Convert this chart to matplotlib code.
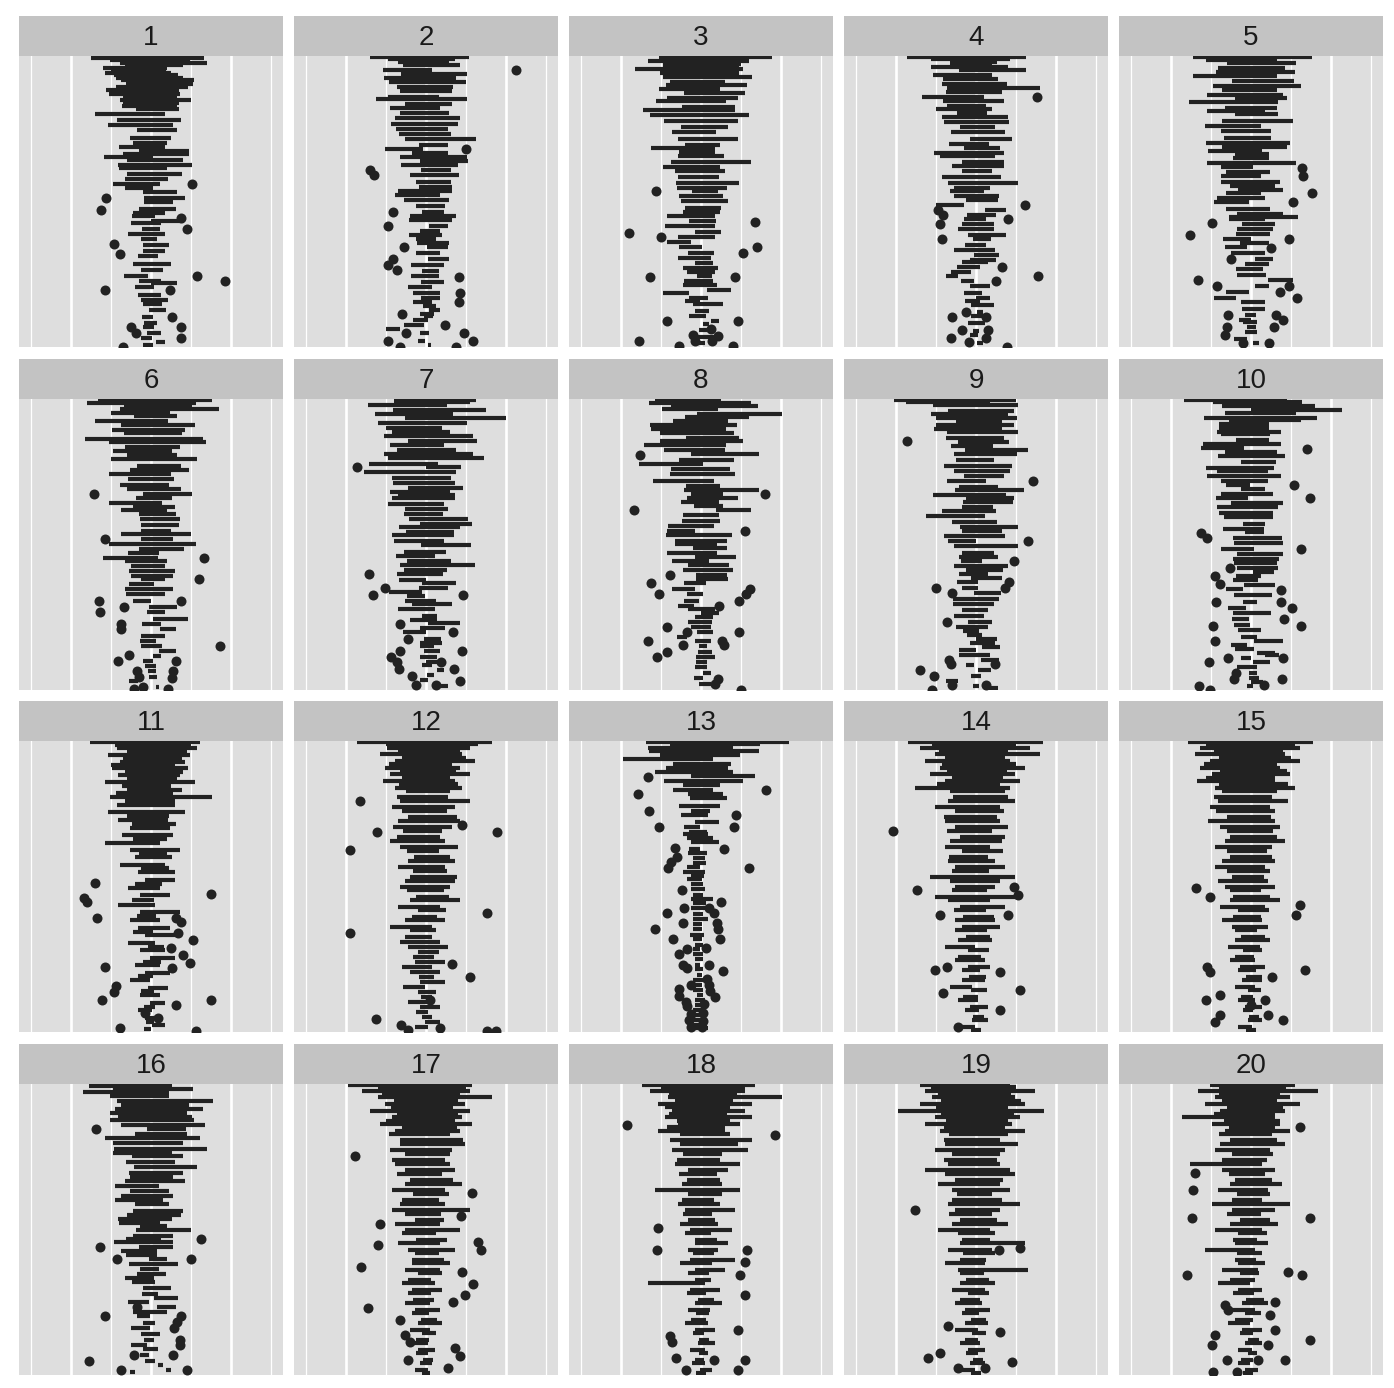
import matplotlib.pyplot as plt

# each bar: (row position, lower end, upper end); each dot: (row position, value)
p01_bars = [
    (0.5, -7.5, 6.6), (1.2, -5.1, 4.9), (2.0, -3.9, 7.0), (2.8, -3.3, 4.0), (3.5, -6.0, 2.0),
    (4.0, -5.0, 1.9), (5.0, -5.8, 2.5), (5.8, -4.6, 3.4), (6.5, -4.4, 4.0), (7.3, -3.8, 5.4),
    (8.3, -3.1, 5.3), (9.3, -4.4, 4.6), (10.3, -5.6, 3.5), (11.3, -5.2, 3.6), (12.3, -3.5, 3.2),
    (13.3, -3.9, 5.0), (14.2, -3.5, 3.5), (15.0, -3.6, 3.2), (15.9, -1.9, 3.5), (17.6, -7.0, 1.8),
    (19.4, -4.3, 3.8), (20.8, -5.4, 2.8), (22.3, -1.8, 3.3), (24.8, -2.6, 2.5), (26.1, -2.3, 2.0),
    (27.4, -4.0, 1.8), (28.5, -1.5, 4.8), (29.5, -3.5, 4.8), (30.4, -5.9, 0.3), (31.4, -3.0, 4.0),
    (32.7, -4.1, 5.1), (33.8, -4.0, 2.0), (35.4, -3.0, 3.9), (37.1, -3.2, 2.1), (38.6, -4.7, 1.1),
    (39.7, -3.3, 0.3), (41.0, -1.0, 3.2), (42.6, -0.9, 4.2), (44.0, -0.9, 2.7), (46.1, -1.5, 3.1),
    (47.2, -2.3, 1.8), (48.3, -2.4, 0.5), (49.7, 0.0, 4.1), (50.4, -2.5, 1.3), (52.0, -1.1, 1.1),
    (53.5, -2.9, 1.8), (55.2, -1.3, 0.7), (57.0, -1.0, 2.3), (58.6, -1.0, 1.7), (60.3, -1.6, 0.9),
    (62.7, -2.2, 2.5), (64.4, -1.3, 1.5), (66.1, -3.4, -0.4), (67.6, -1.5, 1.2), (68.3, 0.0, 3.2),
    (69.6, -2.0, 0.4), (71.8, -1.6, 1.2), (73.5, -1.2, 2.1), (74.6, -1.0, 1.4), (76.6, -0.3, 1.9),
    (78.5, -1.1, 0.3), (80.3, -0.9, 0.8), (81.6, -1.0, 0.4), (83.3, -0.5, 1.3), (84.8, -1.3, 0.1),
    (86.0, 0.6, 1.8), (87.0, -1.0, 0.2),
]
p01_dots = [
    (38.6, 5.1), (42.6, -5.6), (46.3, -6.2), (48.8, 3.8), (52.1, 4.5), (56.5, -4.6), (59.6, -3.9),
    (66.3, 5.8), (67.8, 9.3), (70.3, -5.8), (70.3, 2.4), (78.6, 2.6), (81.5, -2.5), (83.3, -1.9),
    (81.5, 3.7), (85.0, 3.7), (87.6, -3.5),
]

p02_bars = [
    (0.2, -7.0, 5.4), (0.8, -4.8, 3.6), (1.7, -3.5, 2.9), (2.7, -2.9, 4.2), (4.2, -5.4, 0.7),
    (5.3, -3.1, 5.1), (6.7, -5.2, 3.8), (7.8, -4.6, 5.0), (9.4, -3.6, 3.4), (10.5, -3.2, 3.2),
    (12.2, -4.8, 1.6), (13.0, -6.2, 5.1), (14.3, -2.6, 3.3), (15.8, -4.5, 1.7), (17.2, -3.2, 2.9),
    (18.7, -3.9, 4.2), (20.4, -4.4, 4.0), (21.9, -3.7, 2.8), (23.6, -3.4, 3.1), (25.0, -2.6, 6.3),
    (26.9, -0.9, 2.8), (27.9, -5.1, -0.4), (29.2, -1.7, 2.8), (30.5, -3.3, 5.1), (31.7, -0.7, 5.2),
    (32.8, -3.1, 4.0), (34.3, -0.6, 3.1), (35.9, -2.0, 4.1), (37.8, -1.2, 3.1), (39.3, -0.9, 3.3),
    (40.5, -3.5, 3.3), (41.9, -3.9, 1.7), (43.4, -2.8, 2.9), (45.2, -1.3, 2.4), (46.9, -0.5, 2.3),
    (48.1, -2.0, 3.8), (49.4, -2.1, 3.2), (51.3, 0.4, 2.8), (52.7, -0.8, 1.7), (54.0, -2.1, 2.0),
    (55.0, -1.2, 1.3), (56.3, -1.1, 2.9), (57.5, 0.1, 2.8), (59.2, -1.3, 1.7), (61.1, 0.3, 2.9),
    (62.9, -1.9, 2.3), (64.6, -0.5, 1.6), (66.3, -1.9, 1.6), (67.9, -0.6, 2.2), (69.4, -2.3, 0.8),
    (71.3, -1.6, 1.7), (72.9, -0.6, 1.8), (74.0, -1.6, 0.7), (75.3, -0.4, 1.3), (76.5, 0.4, 1.7),
    (77.6, -0.7, 1.0), (78.4, -0.3, 0.9), (79.6, -1.6, 0.3), (81.0, -2.8, -0.2), (82.2, -5.0, -3.2),
    (83.4, -0.8, 0.4), (85.9, -1.0, -0.1), (87.0, 0.2, 0.6),
]
p02_dots = [
    (4.2, 11.25), (28.0, 5.0), (34.3, -7.0), (35.8, -6.5), (47.0, -4.1), (51.3, -4.75), (57.5, -2.8),
    (61.0, -4.1), (62.8, -4.7), (64.5, -3.6), (66.5, 4.1), (71.3, 4.25), (74.0, 4.1), (77.8, -3.0),
    (81.0, 2.4), (83.5, -2.5), (83.5, 4.7), (85.8, -4.8), (85.8, 5.9), (87.6, 3.7), (87.6, -3.2),
]

p03_bars = [
    (0.2, -5.3, 8.9), (0.8, -2.0, 4.5), (1.5, -6.6, 6.0), (2.3, -4.3, 5.0), (2.8, -4.7, 4.8),
    (3.9, -8.3, 5.2), (5.0, -5.1, 4.7), (6.3, -4.7, 6.4), (7.7, -3.9, 3.0), (8.8, -4.4, 5.8),
    (10.0, -5.3, 2.4), (11.1, -2.1, 5.5), (12.6, -4.2, 4.6), (13.6, -5.6, 3.1), (15.3, -2.4, 4.3),
    (16.3, -7.2, 4.2), (17.8, -6.4, 6.0), (19.7, -4.6, 4.6), (21.3, -2.5, 3.4), (23.0, -3.6, 1.9),
    (24.9, -2.9, 4.6), (26.7, -2.0, 2.4), (27.6, -6.2, 1.7), (28.9, -2.8, 1.8), (30.2, -2.9, 2.9),
    (32.0, -3.7, 6.2), (33.5, -4.8, 2.4), (34.7, -3.2, 3.0), (36.3, -2.9, 2.3), (38.2, -3.1, 4.7),
    (39.7, -3.0, 3.3), (40.6, -1.1, 2.1), (42.0, -2.8, 2.7), (43.6, -2.5, 3.4), (45.8, -2.0, 2.5),
    (47.0, -2.3, 2.4), (48.3, -4.3, 1.7), (49.8, -1.5, 1.9), (51.3, -4.5, 1.8), (53.0, -0.8, 2.5),
    (54.6, -2.9, 1.7), (56.0, -4.2, -1.2), (57.5, -2.8, 0.1), (59.2, -1.6, 1.6), (60.8, -2.9, 1.2),
    (62.2, -0.7, 1.5), (63.8, -2.2, 2.1), (65.1, -1.7, 1.8), (66.3, -0.5, 1.4), (67.6, -2.1, 1.5),
    (68.8, -2.2, 2.0), (70.3, 0.7, 3.7), (71.3, -4.7, -1.5), (72.7, -1.5, 0.9), (73.7, -2.0, -0.1),
    (74.8, -1.0, 2.8), (76.7, -0.8, 1.0), (78.3, -1.5, 0.6), (79.8, 1.2, 2.3), (80.8, 0.2, 1.0),
    (82.5, -0.2, 1.2), (84.5, -0.5, 1.8), (86.5, -0.5, 0.5),
]
p03_dots = [
    (40.5, -5.6), (50.0, 6.75), (53.2, -9.0), (54.5, -5.0), (57.5, 7.0), (59.2, 5.3), (66.5, -6.4),
    (66.5, 4.3), (79.7, -4.3), (79.7, 4.6), (82.3, 1.25), (84.0, -1.0), (84.3, 2.1), (85.8, -0.8),
    (85.8, 1.4), (85.8, -7.8), (87.4, -2.7), (87.4, 4.0),
]

p04_bars = [
    (0.3, -8.6, 6.2), (1.0, -5.6, 4.2), (1.7, -2.9, 2.6), (2.0, -3.2, 2.0), (3.2, -5.6, 4.0),
    (4.3, -2.1, 6.3), (5.6, -5.4, 2.0), (6.9, -4.1, 2.8), (8.4, -4.3, 3.9), (9.6, -3.6, 8.0),
    (10.8, -3.7, 3.3), (12.2, -6.8, 1.0), (13.5, -4.1, 3.5), (15.0, -3.6, 1.3), (15.9, -5.0, 2.0),
    (17.2, -2.4, 1.4), (18.5, -4.3, 4.0), (20.0, -4.0, 4.1), (21.3, -2.0, 2.4), (23.0, -3.1, 3.6),
    (24.9, -0.7, 4.5), (26.5, -3.4, 1.6), (27.6, -1.5, 3.0), (29.1, -5.2, 3.5), (30.2, -4.5, 2.4),
    (31.8, -1.7, 3.5), (33.2, -3.0, 3.5), (34.5, -1.8, 2.0), (36.3, -4.3, 3.1), (38.1, -3.5, 5.3),
    (39.6, -2.7, 1.7), (40.7, -3.2, 1.0), (42.0, -2.8, 2.9), (43.3, -1.2, 2.8), (44.9, -5.0, -1.5),
    (46.5, 1.1, 3.7), (48.0, -1.1, 2.5), (49.2, -1.5, 1.2), (50.7, -1.8, 2.3), (52.1, -2.2, 2.2),
    (53.9, -1.0, 3.8), (55.1, -0.4, 1.9), (57.0, -1.4, 1.3), (58.5, -2.7, 2.4), (60.0, -0.2, 2.9),
    (61.3, -0.7, 2.5), (62.0, -1.7, 1.5), (63.5, -2.4, 0.5), (65.0, -3.1, -0.6), (66.3, -3.7, -2.3),
    (67.8, -1.9, -0.3), (69.3, -0.8, 1.8), (71.4, -1.5, 0.8), (72.8, 0.0, 1.7), (73.8, -1.4, 0.5),
    (75.0, -0.6, 2.3), (77.0, 0.1, 0.9), (78.4, -0.6, 1.8), (80.5, -1.0, 1.1), (82.8, -0.4, 0.4),
    (84.0, -0.8, 0.2), (86.5, 0.1, 0.9),
]
p04_dots = [
    (12.4, 7.6), (44.8, 6.1), (46.5, -4.7), (48.0, -4.1), (49.1, 4.0), (50.7, -4.5), (55.1, -4.2),
    (63.4, 3.3), (66.2, 7.8), (67.8, 2.5), (77.2, -1.25), (78.6, -3.0), (78.6, 1.2), (82.5, -1.75),
    (82.6, 1.5), (85.0, -3.1), (85.0, 1.25), (86.2, -0.9), (87.6, 3.9),
]

p05_bars = [
    (0.3, -7.3, 7.6), (1.3, -5.6, 3.2), (2.2, -3.0, 5.6), (3.7, -4.1, 4.3), (4.9, -4.4, 5.5),
    (6.0, -7.2, 3.3), (7.5, -2.4, 5.4), (8.9, -4.7, 6.2), (10.1, -3.6, 3.3), (11.6, -5.5, 4.0),
    (12.7, -2.0, 4.5), (13.9, -7.7, 3.4), (15.6, -3.2, 3.3), (16.5, -5.5, 1.7), (17.6, -2.0, 3.4),
    (19.5, -3.6, 5.3), (21.1, -5.8, 1.3), (22.6, -3.7, 2.5), (24.7, -3.4, 2.5), (26.2, -5.6, 4.9),
    (27.5, -3.6, 4.5), (28.5, -5.4, 1.4), (29.5, -2.0, 2.2), (30.8, -2.2, 2.3), (32.2, -5.5, 5.6),
    (33.5, -3.8, 0.2), (34.8, -3.1, 2.4), (36.1, -3.8, 1.2), (37.8, -3.8, 3.6), (39.2, -2.6, 3.0),
    (40.2, -1.6, 4.0), (41.2, -3.1, 1.2), (42.7, -4.2, 1.7), (44.0, -4.6, -0.2), (46.1, -3.1, 2.4),
    (47.6, -1.7, 4.0), (48.6, -2.7, 5.9), (49.2, -2.8, 1.7), (50.6, -1.1, 3.0), (52.1, -1.7, 2.7),
    (53.7, -1.9, 2.4), (55.0, -3.5, 0.0), (56.4, -1.4, 2.2), (57.6, -3.3, -0.5), (59.2, -2.5, 1.7),
    (61.0, 0.5, 2.8), (62.7, -0.8, 2.2), (64.0, -1.9, 1.5), (65.9, -1.7, 1.9), (67.5, 2.1, 5.2),
    (69.1, 0.5, 2.2), (70.9, -3.1, -0.2), (72.8, -4.6, -1.9), (74.2, -1.3, 1.7), (76.2, -1.1, 1.7),
    (77.9, -0.8, 0.6), (79.5, -1.5, 0.0), (80.0, -1.0, 0.8), (81.7, -0.5, 0.6), (83.1, -0.8, 0.8),
    (85.3, -2.1, -0.5), (86.5, 0.3, 1.0),
]
p05_dots = [
    (33.6, 6.4), (36.2, 6.5), (41.2, 7.6), (44.0, 5.2), (50.4, -4.9), (53.9, -7.6), (55.1, 4.8),
    (57.8, 2.5), (61.1, -2.5), (67.5, -6.6), (69.2, -4.3), (69.3, 4.7), (71.0, 3.6), (72.8, 5.75),
    (78.0, -2.9), (78.0, 3.1), (79.6, 4.0), (81.5, -3.0), (81.5, 2.9), (84.1, -3.25), (86.4, -1.0),
    (86.4, 2.3),
]

p06_bars = [
    (0.3, -6.6, 7.6), (1.2, -8.0, 5.6), (2.0, -3.4, 5.1), (2.9, -3.9, 8.5), (4.2, -5.0, 2.4),
    (5.2, -2.1, 3.3), (6.7, -7.0, 2.1), (7.8, -3.7, 5.5), (9.4, -4.9, 4.2), (10.3, -3.4, 3.9),
    (12.0, -8.2, 6.5), (13.0, -5.2, 6.9), (14.4, -3.2, 3.6), (15.6, -4.7, 2.6), (17.0, -3.0, 3.2),
    (18.2, -5.0, 5.8), (20.2, -1.8, 3.7), (21.5, -2.6, 4.8), (22.5, -5.2, 2.5), (24.2, -2.9, 2.9),
    (26.0, -3.9, 2.2), (27.2, -3.0, 3.8), (28.5, -1.0, 5.1), (29.8, -1.9, 2.6), (31.2, -5.3, 1.4),
    (32.5, -2.3, 3.0), (33.5, -3.7, 2.0), (34.5, -1.5, 3.1), (36.2, -1.4, 3.6), (38.0, -1.2, 3.5),
    (39.7, -1.2, 2.5), (40.5, -3.7, 5.0), (42.0, -1.2, 2.7), (43.5, -5.2, 5.6), (45.2, -1.5, 4.1),
    (46.5, -2.9, 1.0), (47.8, -6.0, 0.9), (48.9, -3.3, 2.0), (50.2, -2.5, 1.7), (51.9, -2.7, 3.0),
    (53.2, -2.5, 2.8), (54.3, -1.3, 1.8), (55.8, -2.8, 0.4), (57.2, -3.2, 2.7), (58.7, -3.1, 1.8),
    (60.8, -2.3, 0.0), (62.6, -0.3, 3.2), (64.0, -0.5, 1.8), (66.2, 0.3, 4.6), (67.8, -1.1, 1.3),
    (69.3, 1.1, 3.1), (71.3, -1.3, 1.8), (72.9, -1.4, 0.6), (74.5, -1.2, 1.4), (76.0, 1.0, 3.1),
    (77.4, 0.2, 1.2), (78.9, -1.0, 0.2), (80.3, -0.8, 0.6), (81.9, -0.4, 0.6), (83.7, -0.3, 0.7),
    (85.0, -2.8, -1.6), (86.5, -1.4, -1.0), (86.8, 0.6, 1.0),
]
p06_dots = [
    (28.5, -7.1), (42.0, -5.8), (47.8, 6.6), (54.3, 6.0), (60.8, -6.5), (60.8, 3.8), (64.0, -6.4),
    (62.5, -3.4), (67.7, -3.7), (69.3, -3.7), (74.5, 8.6), (77.2, -2.75), (78.8, -4.1), (78.8, 3.1),
    (82.0, -1.8), (82.0, 2.75), (83.8, -1.5), (84.0, 2.6), (87.2, -2.1), (86.6, -1.0), (87.4, 2.1),
]

p07_bars = [
    (0.3, -4.0, 6.3), (1.0, -4.0, 5.5), (1.8, -7.2, 2.6), (3.2, -4.1, 7.5), (4.5, -6.4, 3.4),
    (5.8, -2.6, 10.0), (7.3, -6.0, 5.1), (8.7, -5.0, 2.0), (9.9, -4.3, 3.0), (11.2, -5.3, 5.9),
    (12.5, -2.3, 6.4), (13.7, -4.5, 2.2), (15.3, -3.6, 3.7), (16.6, -5.3, 5.9), (17.9, -4.7, 7.3),
    (19.5, -7.1, 1.5), (20.6, 0.0, 4.4), (21.9, -7.8, 3.7), (23.9, -4.3, 3.1), (25.3, -4.1, 3.6),
    (26.8, -2.2, 4.6), (27.9, -4.5, 3.0), (28.8, -3.5, 3.6), (29.8, -4.2, 3.6), (31.5, -4.7, 2.2),
    (33.2, -2.6, 2.7), (34.5, -2.8, 2.1), (36.1, -2.1, 5.2), (37.5, -0.8, 5.7), (38.5, -3.4, 4.2),
    (40.0, -2.5, 3.5), (41.0, -4.3, 3.5), (42.8, -4.0, 2.3), (44.1, -0.6, 5.6), (46.0, -2.8, 2.5),
    (47.3, -3.7, 1.1), (48.7, -2.4, 3.1), (50.0, -3.3, 6.1), (51.5, -2.8, 2.6), (52.8, -3.6, 2.1),
    (54.4, -3.4, 0.0), (55.5, -0.5, 3.8), (57.0, -0.9, 2.7), (58.2, -4.6, -0.5), (59.3, -2.4, -0.1),
    (60.8, -2.6, 1.3), (61.8, -1.8, 3.2), (63.3, -3.5, 1.1), (65.3, -0.5, 1.4), (66.6, -2.0, 1.4),
    (67.5, 0.3, 4.2), (68.8, -0.7, 2.4), (70.0, -2.9, 0.0), (72.1, -0.3, 1.9), (73.6, -0.7, 2.0),
    (74.3, -0.8, 1.0), (75.8, -0.3, 1.7), (77.6, -0.8, 1.4), (79.3, 0.0, 1.5), (80.2, -0.5, 0.7),
    (81.6, 1.4, 2.3), (83.2, 0.1, 1.0), (84.5, -0.8, 0.2), (86.5, 1.5, 2.8),
]
p07_dots = [
    (20.6, -8.6), (52.7, -7.1), (57.0, -5.1), (59.1, -6.6), (59.1, 4.6), (67.7, -3.25), (70.0, 3.4),
    (72.1, -2.25), (75.8, -3.2), (75.8, 4.5), (77.6, -4.4), (79.2, -3.6), (79.2, 1.9), (81.3, -3.4),
    (81.3, 3.5), (83.3, -1.7), (84.8, 4.2), (86.2, -1.3), (86.2, 1.25),
]

p08_bars = [
    (0.3, -5.8, 2.5), (1.3, -6.5, 6.2), (2.2, -3.8, 7.1), (3.0, -4.9, 2.1), (4.4, -0.5, 10.1),
    (5.5, -2.0, 6.0), (6.7, -3.5, 3.4), (7.8, -6.4, 4.5), (8.9, -6.2, 3.1), (10.1, -5.1, 4.1),
    (11.7, -1.9, 4.8), (12.7, -5.1, 5.2), (13.9, -7.1, 3.1), (15.4, -4.6, 3.0), (16.6, -1.3, 7.3),
    (18.3, -2.8, 4.1), (19.7, -7.8, 0.2), (21.1, -3.8, 3.6), (22.5, -3.9, 4.2), (24.6, -6.0, 1.6),
    (26.1, -1.9, 2.4), (27.4, -2.1, 7.2), (28.7, -1.2, 2.7), (29.7, -1.7, 4.6), (31.1, -2.5, 2.3),
    (32.3, -0.9, 2.8), (33.4, 1.9, 6.2), (35.0, -2.2, 2.3), (36.6, -2.4, 2.4), (38.3, -4.1, 1.6),
    (39.8, -4.3, -0.7), (40.8, -4.4, 3.9), (42.7, -3.2, 3.3), (43.7, -3.2, 2.0), (45.0, -1.0, 3.2),
    (46.3, -4.2, 2.0), (47.5, -0.7, 4.4), (48.8, -3.6, 1.0), (50.0, -1.6, 3.5), (51.5, -2.3, 4.0),
    (53.0, -0.6, 3.2), (54.3, -0.6, 3.4), (55.4, -2.1, 0.6), (57.3, -3.6, -0.8), (58.8, -1.7, 0.3),
    (60.8, -2.1, -0.2), (62.4, -2.9, -0.9), (63.3, -1.6, 1.8), (64.4, 0.0, 2.3), (65.5, -0.8, 1.5),
    (67.0, -1.6, 1.4), (68.6, -1.2, 1.3), (70.0, -0.5, 1.5), (71.5, -3.0, -1.8), (72.8, -0.8, 1.3),
    (74.3, -0.2, 0.7), (76.2, -0.4, 1.4), (77.8, -0.6, 1.8), (79.3, -0.6, 0.8), (80.8, -0.8, 0.8),
    (82.6, 0.3, 1.3), (84.0, -0.9, 0.2), (85.8, -0.3, 1.2),
]
p08_dots = [
    (16.8, -7.6), (28.7, 8.0), (33.5, -8.4), (39.7, 5.5), (53.1, -3.9), (55.4, -6.25), (57.2, 6.1),
    (58.7, -5.3), (58.7, 5.6), (60.8, 4.75), (62.3, 2.2), (68.6, -4.2), (70.0, -1.8), (70.0, 4.8),
    (72.8, -6.6), (72.8, 2.6), (74.2, 2.9), (74.2, -2.2), (76.3, -4.2), (77.8, -5.5), (84.2, 2.1),
    (85.8, 1.7), (87.5, 5.0),
]

p09_bars = [
    (0.3, -10.2, 5.0), (1.0, -8.8, 1.7), (1.8, -5.4, 5.2), (3.6, -3.5, 4.7), (4.6, -5.6, 4.0),
    (5.6, -5.0, 5.1), (6.7, -2.5, 3.2), (7.9, -5.0, 4.7), (9.0, -5.2, 3.2), (10.0, -3.6, 5.3),
    (11.6, -3.7, 3.5), (12.8, -2.3, 4.1), (14.0, -3.1, 2.1), (15.4, -1.4, 6.5), (16.7, -2.8, 5.1),
    (18.3, -2.5, 2.2), (20.2, -4.0, 4.5), (21.6, -2.7, 4.2), (23.1, -1.5, 3.5), (24.8, -3.6, 1.2),
    (26.4, -2.1, 2.7), (27.3, -2.6, 6.0), (28.8, -5.4, 3.8), (29.9, -1.2, 4.8), (31.0, -1.6, 4.6),
    (32.4, -1.7, 2.1), (33.7, -4.2, 2.5), (35.3, -6.2, 1.1), (37.0, -3.0, 2.6), (38.5, -2.0, 5.3),
    (39.8, -1.7, 3.3), (41.2, -4.0, 3.6), (42.8, -3.5, 0.0), (44.3, -2.7, 5.3), (46.3, -1.7, 2.3),
    (47.6, -2.1, 2.7), (48.9, -1.9, 0.8), (50.3, -2.8, 4.0), (51.5, -1.2, 3.4), (52.7, -2.1, 1.5),
    (54.0, -0.6, 3.2), (55.0, -2.4, 0.3), (56.9, -1.8, 0.3), (58.3, -0.3, 3.1), (60.2, -2.9, 2.9),
    (61.6, -2.9, 2.2), (63.5, -1.8, 1.5), (65.2, -2.7, 1.0), (67.2, -1.0, 2.0), (68.7, -2.5, 1.5),
    (69.8, -1.6, 0.4), (71.0, -1.1, 0.7), (72.2, 0.0, 2.6), (73.5, -0.8, 2.4), (74.6, 0.7, 3.0),
    (75.5, -2.1, 0.0), (77.1, -2.1, 1.7), (78.5, 0.6, 2.9), (80.0, -1.3, -0.2), (81.6, 0.2, 1.9),
    (83.5, -0.6, 0.6), (84.9, -3.8, -2.3), (86.5, -0.4, 0.4), (86.9, 1.0, 2.7),
]
p09_dots = [
    (12.7, -8.6), (24.8, 7.1), (42.8, 6.5), (48.8, 4.8), (55.0, 4.1), (57.0, 3.6), (57.0, -5.0),
    (58.5, -3.0), (67.2, -3.6), (78.5, -3.4), (79.8, -3.1), (79.8, 2.4), (81.5, -7.0), (83.5, -5.2),
    (86.2, -3.0), (86.2, 1.3), (87.5, -5.5),
]

p10_bars = [
    (0.3, -8.4, 4.5), (1.0, -4.7, 6.4), (2.0, -3.6, 8.0), (3.2, 0.0, 11.4), (4.3, -3.2, 5.6),
    (5.6, -5.9, 8.2), (6.2, -2.7, 6.3), (7.6, -4.0, 2.3), (8.6, -4.0, 2.3), (9.9, -4.3, 3.8),
    (10.5, -3.8, 2.4), (12.3, -1.9, 2.2), (13.4, -6.0, 3.8), (14.9, -6.3, -0.9), (16.0, -3.3, 3.3),
    (17.3, -4.1, 4.3), (18.9, -1.3, 3.1), (20.8, -5.6, 2.9), (21.8, -4.2, 2.1), (23.1, -5.5, 3.7),
    (24.6, -3.8, 2.1), (25.9, -3.1, -0.1), (27.2, -1.2, 1.8), (28.5, -3.8, 2.7), (29.8, -4.4, -0.4),
    (31.2, -2.5, 4.0), (32.6, -4.3, 3.4), (34.2, -4.0, 2.7), (35.5, -3.4, 2.8), (37.7, -1.0, 1.8),
    (39.1, -3.5, 1.6), (40.0, -0.7, 1.6), (41.8, -2.2, 3.9), (43.3, -2.1, 4.0), (45.2, -3.8, 0.4),
    (46.8, -1.7, 4.0), (48.1, -2.2, 3.5), (49.4, -2.1, 3.3), (50.9, -1.8, 3.4), (52.0, 0.3, 2.9),
    (53.3, -1.9, 1.2), (54.5, -2.3, 0.9), (56.0, -0.9, 3.0), (57.3, -3.1, -1.0), (59.0, -2.1, 2.6),
    (61.0, -1.0, 0.8), (62.8, -2.9, -0.6), (64.5, -2.3, 2.5), (66.2, -2.4, -0.2), (68.0, -2.1, -0.1),
    (69.5, -1.6, 1.2), (71.5, -1.2, 0.8), (73.0, 0.4, 4.0), (74.0, -2.5, -0.5), (75.2, -2.0, 0.4),
    (76.5, 0.8, 3.0), (77.0, 1.8, 3.5), (78.0, -1.3, 0.0), (79.3, 0.3, 2.4), (80.7, -1.8, 0.7),
    (82.5, -0.2, 0.8), (84.0, -0.3, 1.0), (85.3, 0.0, 1.5), (86.5, -0.5, 0.2),
]
p10_dots = [
    (15.0, 7.0), (26.0, 5.4), (29.8, 7.4), (40.3, -6.2), (41.8, -5.5), (45.2, 6.2), (51.0, -2.6),
    (53.3, -4.5), (55.8, -3.9), (57.4, 3.8), (61.0, -4.4), (61.0, 3.7), (62.8, 5.1), (66.3, 4.1),
    (68.2, -4.8), (68.2, 6.2), (73.0, -4.5), (78.0, -2.9), (78.0, 4.0), (79.3, -5.3), (82.5, -1.9),
    (84.2, -2.1), (84.2, 3.9), (86.4, -6.5), (86.2, 1.6), (87.5, -5.1),
]

p11_bars = [
    (0.3, -7.6, 6.1), (1.2, -4.5, 5.0), (2.1, -4.25, 5.75), (3.2, -3.0, 4.5), (4.2, -5.4, 4.9),
    (5.3, -3.5, 3.9), (6.3, -3.9, 4.25), (7.2, -5.0, 3.0), (8.1, -4.9, 4.6), (9.2, -3.3, 4.0),
    (10.2, -4.1, 3.6), (11.3, -3.0, 3.2), (12.3, -5.75, 5.5), (13.5, -3.6, 2.5), (14.7, -3.0, 3.9),
    (15.8, -4.4, 2.8), (16.9, -5.1, 7.6), (18.1, -3.2, 3.0), (19.3, -4.25, 3.0), (21.4, -5.4, 4.25),
    (22.6, -3.0, 2.2), (23.8, -4.1, 2.1), (25.0, -2.4, 3.1), (26.2, -2.6, 2.4), (28.3, -3.6, 2.75),
    (29.5, -2.2, 2.0), (30.7, -5.75, 1.1), (32.8, -2.6, 3.6), (33.8, -1.5, 2.0), (34.9, -2.0, 2.6),
    (37.3, -3.9, 1.75), (38.3, -1.2, 2.2), (39.4, -1.6, 3.0), (41.8, -0.75, 3.0), (43.0, -2.0, 1.4),
    (44.2, -2.9, 1.1), (46.4, -1.4, 2.4), (48.0, -2.4, 0.4), (49.4, -4.1, 0.5), (51.5, -1.4, 3.6),
    (52.7, -1.8, 0.6), (53.9, -2.6, 1.1), (56.3, -1.6, 2.4), (57.4, -2.2, 0.3), (58.4, -0.75, 3.0),
    (60.8, -2.9, 0.5), (61.9, -0.4, 1.6), (62.9, -1.4, 1.75), (65.3, -0.1, 3.0), (66.4, -1.0, 1.2),
    (67.4, -2.0, 1.1), (69.8, -0.75, 2.4), (70.8, -1.6, 0.3), (71.9, -2.6, -0.1), (74.3, -0.4, 2.1),
    (75.4, -1.2, 0.4), (76.5, -1.4, 1.1), (78.9, -0.1, 1.75), (80.0, -0.9, 0.5), (81.0, -1.6, 0.1),
    (83.4, -0.75, 1.1), (84.5, -0.6, 0.4), (85.5, 0.1, 1.75), (86.7, -0.9, 0.0),
]
p11_dots = [
    (42.7, -7.0), (47.3, -8.4), (48.5, -8.0), (53.3, -6.75), (46.1, 7.5), (53.3, 3.1), (54.5, 3.75),
    (57.8, 3.4), (59.9, 5.25), (62.3, 2.5), (64.4, 4.0), (68.0, -5.75), (73.7, -4.4), (75.6, -4.6),
    (68.3, 2.6), (66.8, 4.9), (78.0, -6.1), (79.5, 3.1), (81.9, -0.75), (83.4, 0.9), (78.0, 7.5),
    (86.4, -3.9), (87.3, 5.6),
]

p12_bars = [
    (0.3, -8.6, 8.25), (1.0, -5.0, 6.5), (2.0, -4.9, 5.5), (3.0, -3.5, 4.2), (4.0, -5.75, 4.5),
    (5.0, -3.0, 5.0), (6.0, -3.9, 6.1), (7.0, -4.6, 3.2), (8.0, -5.1, 4.25), (9.0, -3.2, 3.8),
    (10.0, -4.5, 5.5), (11.0, -3.0, 3.0), (12.0, -5.4, 3.6), (13.0, -3.4, 4.0), (14.0, -3.9, 4.5),
    (15.0, -2.5, 3.0), (17.0, -3.6, 2.8), (18.0, -3.25, 5.5), (20.0, -4.25, 3.6), (21.0, -3.0, 2.6),
    (23.0, -2.2, 3.9), (24.0, -3.5, 4.25), (26.0, -4.1, 3.25), (27.0, -2.9, 2.0), (29.0, -3.6, 1.8),
    (30.0, -4.5, 2.4), (32.0, -3.25, 4.0), (33.0, -2.4, 1.6), (35.0, -1.5, 3.0), (36.0, -2.25, 3.6),
    (38.0, -3.5, 2.4), (39.0, -1.6, 2.6), (41.0, -2.0, 3.9), (42.0, -2.6, 3.6), (44.0, -3.25, 3.0),
    (45.0, -2.4, 2.2), (47.0, -1.2, 2.9), (48.0, -2.0, 4.25), (50.0, -3.5, 1.75), (51.0, -1.0, 2.5),
    (53.0, -1.8, 1.4), (54.0, -2.6, 2.4), (56.0, -4.5, 0.75), (57.0, -2.0, 1.2), (59.0, -2.6, 0.8),
    (60.5, -3.25, 1.75), (62.0, -2.25, 2.75), (63.5, -1.0, 1.6), (65.0, -1.6, 1.0), (66.5, -1.4, 2.4),
    (68.0, -3.0, 0.75), (69.5, -2.0, 1.75), (71.0, -0.9, 1.0), (72.5, -0.75, 2.4), (74.2, -2.9, -0.1),
    (75.5, -1.0, 1.2), (77.0, -0.6, 0.8), (78.5, -2.25, 0.25), (80.0, -0.75, 1.75), (81.5, -1.2, 0.2),
    (83.0, -0.5, 0.8), (84.5, -0.1, 1.75), (86.0, -1.4, 0.25),
]
p12_dots = [
    (18.1, -8.25), (27.4, -6.1), (32.8, -9.5), (25.3, 4.5), (27.4, 8.9), (57.8, -9.5), (51.8, 7.6),
    (83.7, -6.25), (67.1, 3.25), (71.0, 5.5), (85.5, -3.1), (87.3, 8.75), (87.3, 7.6), (86.4, 1.75),
    (87.0, -2.25), (78.0, 0.5),
]

p13_bars = [
    (0.3, -6.9, 11.0), (1.0, -3.9, 7.4), (2.0, -6.6, 4.0), (3.0, -6.5, 7.2), (4.3, -5.1, 4.9),
    (5.5, -9.8, 1.5), (6.8, -3.5, 3.8), (8.0, -4.4, 3.4), (9.3, -5.75, 4.0), (10.5, -1.2, 6.75),
    (12.0, -4.6, 5.2), (13.3, -2.2, 2.4), (14.7, -3.5, 1.5), (16.0, -1.6, 2.8), (17.3, -1.4, 3.2),
    (19.5, -2.75, 2.4), (21.0, -1.2, 1.1), (22.3, -2.5, 0.9), (24.3, -0.8, 2.2), (26.0, -2.1, -0.1),
    (27.3, -1.5, 0.8), (28.0, -2.3, 0.9), (29.3, -1.8, 1.5), (30.5, -1.2, 2.2), (32.5, -1.5, -0.1),
    (33.8, -1.6, 0.7), (35.3, -1.0, 0.5), (36.7, -1.0, 0.6), (38.0, -1.8, -0.1), (39.3, -2.2, 0.5),
    (40.5, -1.3, 0.4), (41.5, -1.8, 0.1), (43.0, -1.2, 0.3), (44.5, -1.2, 0.5), (46.3, -1.0, 0.3),
    (47.5, -1.25, 1.5), (48.7, -1.0, 0.6), (50.3, -1.2, 0.9), (52.0, -1.0, 0.3), (53.5, -1.0, 0.9),
    (55.0, -1.0, 0.1), (56.5, -1.0, 0.1), (58.3, -1.4, 0.4), (59.5, -1.0, 0.1), (61.3, -0.75, 0.3),
    (62.5, -1.0, -0.1), (64.0, -1.0, 0.2), (65.7, -0.75, 0.3), (67.3, -0.75, -0.1), (68.7, -0.75, 0.3),
    (70.3, -0.5, 0.1), (72.0, -1.0, 0.5), (73.5, -0.75, 0.1), (75.0, -1.0, 0.3), (76.5, -0.5, 0.3),
    (78.0, -0.75, 0.5), (79.5, -0.75, 0.3), (81.0, -1.0, 0.3), (82.5, -1.2, 0.1), (84.0, -1.2, 0.3),
    (85.5, -1.4, 0.7), (86.5, -1.5, 0.9),
]
p13_dots = [
    (10.7, -6.6), (14.8, 8.1), (16.0, -7.9), (21.0, -6.5), (22.3, 4.4), (26.0, -5.3), (26.0, 4.1),
    (32.3, -3.25), (32.5, 2.9), (35.0, -3.0), (36.5, -3.7), (38.2, -4.1), (38.2, 6.0), (44.8, -2.4),
    (48.5, 2.5), (50.2, -2.1), (51.8, -4.2), (50.2, 1.0), (51.8, 1.6), (54.8, -2.3), (54.8, 2.0),
    (56.5, -5.75), (56.5, 2.1), (59.7, -3.5), (59.7, 2.4), (62.5, -1.8), (64.2, -2.7), (62.3, 0.6),
    (67.3, -2.2), (68.3, -1.8), (67.5, 1.0), (69.3, 2.7), (71.5, 0.7), (73.5, -1.25), (73.5, 1.0),
    (75.3, 1.1), (74.8, -2.8), (76.8, -2.8), (77.0, 1.75), (78.7, -1.9), (79.8, -1.7), (79.3, 0.4),
    (82.0, 0.3), (82.3, -1.25), (84.0, -1.5), (84.3, 0.3), (86.0, -1.2), (86.0, 0.1),
]

p14_bars = [
    (0.3, -8.5, 8.4), (1.0, -5.5, 5.0), (2.0, -7.0, 6.75), (3.0, -4.6, 4.0), (4.0, -5.1, 8.0),
    (5.0, -3.9, 3.6), (6.0, -6.4, 4.25), (7.0, -4.2, 5.0), (8.0, -4.5, 6.1), (9.0, -3.6, 3.9),
    (10.0, -5.75, 4.9), (11.0, -3.0, 3.4), (12.0, -3.9, 5.5), (13.0, -4.9, 3.0), (14.0, -7.6, 4.25),
    (15.0, -3.3, 3.6), (17.0, -2.9, 4.0), (18.0, -3.5, 4.9), (20.0, -5.1, 3.0), (21.0, -2.6, 3.5),
    (23.0, -4.0, 2.6), (24.0, -3.9, 3.0), (26.0, -2.6, 4.0), (27.0, -3.6, 2.0), (29.0, -2.0, 3.6),
    (30.0, -3.25, 3.25), (32.0, -3.9, 1.75), (33.0, -1.8, 3.4), (35.0, -3.4, 1.5), (36.0, -3.5, 2.4),
    (38.0, -2.6, 3.6), (39.0, -3.0, 1.6), (41.0, -5.75, 4.9), (42.0, -3.25, 3.0), (44.0, -2.6, 2.4),
    (45.0, -3.0, 1.4), (47.0, -5.1, 5.5), (48.0, -3.5, 1.75), (50.0, -2.0, 3.6), (51.0, -2.8, 1.2),
    (53.0, -1.6, 2.2), (54.0, -2.6, 2.4), (56.0, -1.75, 3.0), (57.0, -2.6, 1.4), (59.0, -1.2, 1.8),
    (60.0, -2.25, 2.0), (62.0, -3.9, -0.1), (63.0, -1.0, 1.6), (65.0, -2.2, 0.6), (66.0, -2.6, 1.1),
    (68.0, -1.0, 1.75), (69.0, -1.8, 0.5), (71.0, -0.9, 1.2), (72.0, -1.75, 1.1), (74.0, -3.25, -0.5),
    (75.0, -0.6, 1.4), (77.0, -1.6, 0.2), (78.0, -2.25, 0.25), (80.0, -0.75, 1.5), (81.0, -1.4, 0.4),
    (83.0, -0.4, 1.0), (84.0, -0.5, 1.5), (86.0, -2.0, -0.1), (87.0, -0.6, 0.6),
]
p14_dots = [
    (27.1, -10.4), (44.8, -7.4), (44.0, 4.75), (46.4, 5.25), (52.4, -4.5), (52.4, 4.0), (68.9, -5.1),
    (68.0, -3.6), (69.5, 3.0), (75.0, 5.5), (75.9, -4.1), (86.1, -2.25), (81.0, 3.0),
]

p15_bars = [
    (0.3, -7.9, 7.75), (1.0, -5.6, 5.5), (2.0, -6.4, 6.1), (3.0, -4.6, 4.0), (4.0, -7.0, 4.25),
    (5.0, -4.0, 5.0), (6.0, -5.1, 6.1), (7.0, -5.9, 3.2), (8.0, -6.4, 3.6), (9.0, -3.9, 4.5),
    (10.0, -4.9, 4.9), (11.0, -5.6, 3.0), (12.0, -6.75, 3.0), (13.0, -4.0, 4.6), (14.0, -4.5, 5.5),
    (15.0, -3.6, 3.2), (17.0, -4.6, 2.6), (18.0, -4.1, 4.6), (20.0, -5.1, 2.4), (21.0, -4.4, 3.0),
    (23.0, -3.0, 2.5), (24.0, -5.4, 3.0), (26.0, -3.9, 3.6), (27.0, -3.0, 2.8), (29.0, -2.6, 3.2),
    (30.0, -3.25, 4.25), (32.0, -4.5, 2.6), (33.0, -3.0, 2.0), (35.0, -2.6, 2.6), (36.0, -3.6, 3.0),
    (38.0, -4.5, 1.75), (39.0, -3.0, 2.4), (41.0, -2.4, 1.6), (42.0, -4.1, 2.1), (44.0, -3.25, 3.0),
    (45.0, -2.6, 1.2), (47.0, -2.2, 2.4), (48.0, -2.6, 3.6), (50.0, -3.9, 1.75), (51.0, -1.6, 2.2),
    (53.0, -2.2, 1.2), (54.0, -3.6, 1.4), (56.0, -2.4, 2.1), (57.0, -2.0, 0.8), (59.0, -1.2, 1.8),
    (60.0, -2.0, 2.4), (62.0, -2.9, 1.1), (63.0, -1.0, 1.4), (65.0, -2.0, 0.4), (66.0, -2.6, 0.5),
    (68.0, -1.4, 1.75), (69.0, -1.6, 0.6), (71.0, -0.6, 1.4), (72.0, -1.1, 1.4), (74.0, -2.0, 0.5),
    (75.0, -0.4, 1.2), (77.0, -1.2, 0.3), (78.0, -1.6, 0.5), (80.0, -0.75, 1.4), (81.0, -1.0, 0.3),
    (83.0, -0.3, 1.0), (84.0, -0.4, 1.4), (86.0, -1.6, 0.1), (87.0, -0.6, 0.6),
]
p15_dots = [
    (44.2, -6.9), (47.0, -5.1), (49.4, 6.1), (52.4, 5.6), (68.9, 6.75), (68.0, -5.5), (69.5, -5.1),
    (71.0, 2.6), (78.0, -5.6), (76.5, -3.9), (78.0, 1.75), (84.0, 4.0), (82.5, -3.9), (82.5, 2.1),
    (84.6, -4.5), (79.5, 0.0),
]

p16_bars = [
    (0.5, -7.7, 2.6), (1.4, -4.7, 5.2), (2.5, -8.5, 2.2), (3.7, -5.1, 2.2), (5.0, -4.3, 7.8),
    (6.2, -3.7, 4.8), (7.5, -4.5, 6.5), (8.7, -5.1, 4.5), (9.9, -4.1, 5.1), (10.9, -5.1, 5.4),
    (12.3, -3.8, 6.75), (13.5, -0.5, 4.4), (15.0, -2.0, 4.5), (16.4, -5.75, 6.1), (17.7, -4.8, 4.0),
    (19.5, -4.6, 7.0), (20.7, -4.8, 2.6), (21.7, -2.4, 4.0), (23.5, -3.1, 3.0), (25.0, -2.1, 5.8),
    (26.7, -2.7, 4.0), (27.9, -2.6, 2.8), (29.2, -3.3, 4.25), (30.7, -4.5, 1.0), (32.2, -2.6, 2.2),
    (33.7, -3.7, 2.7), (35.0, -4.5, 1.5), (36.2, -2.0, 2.2), (38.2, -2.3, 4.0), (39.4, -3.0, 3.8),
    (40.7, -4.1, 2.6), (41.7, -4.0, 1.1), (42.7, -1.4, 2.0), (44.0, -1.9, 5.0), (45.7, -2.2, 2.8),
    (46.7, -3.1, 1.2), (47.7, -4.6, 2.7), (49.2, -1.5, 2.7), (50.4, -3.7, 0.7), (51.5, -3.1, 0.8),
    (52.7, -0.25, 2.0), (54.2, -2.7, 3.4), (55.7, -1.4, 1.0), (57.2, -1.7, 1.9), (58.3, -3.3, 0.4),
    (59.7, -2.4, 0.5), (61.5, -1.0, 2.5), (63.2, -1.1, 0.9), (64.3, 0.4, 3.4), (65.7, -2.9, -0.3),
    (67.0, 0.7, 3.1), (68.5, -2.2, 2.0), (69.7, -1.7, -0.1), (71.9, -1.0, 0.5), (73.5, -2.5, -0.1),
    (75.2, -1.25, 1.1), (77.2, -0.9, 0.4), (78.5, -2.5, -0.5), (79.9, -1.0, 0.9), (81.5, -1.4, -0.3),
    (83.5, -0.7, 0.5), (84.7, 0.9, 1.5), (86.2, 1.9, 2.5), (86.8, -2.6, -2.0),
]
p16_dots = [
    (13.6, -6.9), (46.8, 6.3), (49.1, -6.4), (52.8, -4.3), (52.8, 5.0), (67.0, -1.8), (69.7, -5.7),
    (69.7, 3.7), (71.7, 3.3), (73.5, 2.9), (77.2, 3.6), (78.5, 3.6), (81.5, -2.1), (81.5, 2.7),
    (83.5, -7.75), (86.0, -3.7), (86.0, 4.5),
]

p17_bars = [
    (0.3, -9.75, 5.75), (1.0, -6.0, 5.0), (2.0, -8.0, 5.5), (3.0, -5.5, 4.2), (4.0, -6.0, 8.25),
    (5.0, -4.0, 4.0), (6.0, -5.1, 4.9), (7.0, -4.4, 3.4), (8.0, -7.0, 5.5), (9.0, -3.6, 4.0),
    (10.0, -4.25, 4.5), (11.0, -5.0, 3.6), (12.0, -5.75, 5.75), (13.0, -3.0, 3.9), (14.0, -3.9, 4.25),
    (15.0, -4.6, 3.0), (17.0, -3.2, 4.6), (18.0, -3.25, 4.9), (20.0, -4.5, 3.25), (21.0, -2.6, 3.0),
    (23.0, -4.2, 2.4), (24.0, -3.9, 3.0), (26.0, -2.6, 3.6), (27.0, -3.6, 2.0), (29.0, -2.0, 3.4),
    (30.0, -2.6, 4.5), (32.0, -4.25, 2.4), (33.0, -1.6, 2.9), (35.0, -3.0, 1.6), (36.0, -3.25, 2.4),
    (38.0, -4.25, 5.5), (39.0, -2.6, 1.9), (41.0, -1.4, 2.2), (42.0, -3.9, 1.75), (44.0, -2.6, 4.25),
    (45.0, -3.0, 1.2), (47.0, -1.2, 2.6), (48.0, -3.5, 1.75), (50.0, -2.25, 3.6), (51.0, -1.4, 1.6),
    (53.0, -1.8, 2.2), (54.0, -1.75, 3.0), (56.0, -2.6, 1.75), (57.0, -1.0, 2.0), (59.0, -2.2, 0.6),
    (60.0, -3.0, 1.1), (62.0, -1.75, 2.0), (63.0, -2.2, 0.6), (65.0, -1.6, 1.0), (66.0, -2.6, 0.5),
    (68.0, -1.4, 1.75), (69.0, -1.8, 0.4), (71.0, -0.6, 1.4), (72.0, -1.0, 2.0), (74.0, -2.0, 0.5),
    (75.0, -0.5, 1.2), (77.0, -1.2, 0.4), (78.0, -1.75, 0.25), (80.0, -1.0, 1.1), (81.0, -1.2, 0.2),
    (83.0, -0.4, 0.9), (84.0, -0.75, 0.75), (86.0, -1.4, 0.25), (87.0, -0.5, 0.5),
]
p17_dots = [
    (21.7, -8.9), (32.8, 5.75), (42.1, -5.75), (48.5, -6.0), (39.7, 4.4), (47.6, 6.5), (50.0, 6.9),
    (55.1, -8.1), (56.6, 4.5), (63.5, 4.9), (65.6, 3.4), (67.4, -7.25), (60.2, 5.9), (71.0, -3.25),
    (75.6, -2.6), (77.7, -2.0), (79.5, 3.6), (81.9, 4.25), (83.1, -2.25), (85.5, 2.75),
]

p18_bars = [
    (0.3, -7.4, 6.75), (1.0, -5.0, 5.5), (2.0, -6.4, 5.5), (3.0, -4.0, 4.5), (4.0, -4.1, 10.1),
    (5.0, -3.2, 4.0), (6.0, -5.4, 6.4), (7.0, -4.5, 3.6), (8.0, -3.6, 5.5), (9.0, -4.0, 3.2),
    (10.0, -4.5, 6.4), (11.0, -3.0, 3.6), (12.0, -2.9, 4.9), (13.0, -4.2, 3.0), (14.0, -5.4, 3.0),
    (15.0, -2.6, 3.6), (17.0, -3.9, 6.4), (18.0, -2.6, 4.6), (20.0, -3.6, 5.9), (21.0, -2.2, 2.6),
    (23.0, -3.0, 2.4), (24.0, -3.25, 4.9), (26.0, -1.6, 3.4), (27.0, -2.8, 2.0), (29.0, -1.8, 2.4),
    (30.0, -2.4, 2.6), (32.0, -5.75, 4.9), (33.0, -1.6, 2.6), (35.0, -2.4, 1.6), (36.0, -2.9, 2.4),
    (38.0, -2.0, 4.25), (39.0, -2.2, 1.4), (41.0, -1.6, 1.8), (42.0, -2.6, 2.1), (44.0, -1.4, 3.9),
    (45.0, -2.0, 1.2), (47.0, -0.8, 2.0), (48.0, -0.75, 3.4), (50.0, -1.6, 2.1), (51.0, -1.0, 1.6),
    (53.0, -1.4, 4.25), (54.0, -2.6, 1.4), (56.0, -0.75, 3.0), (57.0, -1.6, 1.0), (59.0, -0.8, 1.2),
    (60.0, -6.6, 0.5), (62.0, -1.4, 2.4), (63.0, -1.8, 0.6), (65.0, -0.4, 1.6), (66.0, -0.75, 2.6),
    (68.0, -1.6, 1.1), (69.0, -0.6, 1.0), (71.0, -1.2, 0.6), (72.0, -2.0, 0.9), (74.0, -0.75, 1.75),
    (75.0, -1.0, 0.4), (77.0, -0.2, 1.0), (78.0, -0.4, 1.75), (80.0, -1.4, 0.5), (81.0, -0.2, 0.9),
    (83.0, -0.8, 0.4), (84.0, -1.1, 0.5), (86.0, -0.1, 1.4), (87.0, -0.6, 0.6),
]
p18_dots = [
    (12.3, -9.25), (15.4, 9.25), (43.3, -5.4), (50.0, -5.5), (50.0, 5.75), (53.6, 5.5), (57.5, 4.9),
    (63.5, 5.5), (75.9, -3.9), (77.7, -3.6), (74.0, 4.6), (83.1, 5.5), (82.5, -3.1), (86.1, -1.9),
    (86.1, 4.6), (83.1, 1.6),
]

p19_bars = [
    (0.3, -7.0, 4.25), (1.0, -5.6, 5.0), (2.0, -6.4, 7.4), (3.0, -4.8, 4.4), (4.0, -5.5, 4.9),
    (5.0, -4.4, 5.6), (6.0, -7.0, 6.1), (7.0, -5.0, 4.0), (8.0, -9.75, 8.5), (9.0, -4.4, 4.8),
    (10.0, -5.1, 5.5), (11.0, -3.8, 4.0), (12.0, -6.4, 4.5), (13.0, -4.0, 3.6), (14.0, -4.5, 6.1),
    (15.0, -3.4, 4.0), (17.0, -4.0, 3.0), (18.0, -3.9, 5.25), (20.0, -5.1, 3.6), (21.0, -3.0, 3.0),
    (23.0, -4.0, 2.6), (24.0, -3.5, 3.0), (26.0, -6.4, 4.25), (27.0, -3.9, 4.9), (29.0, -2.6, 3.4),
    (30.0, -4.75, 3.0), (32.0, -3.0, 4.25), (33.0, -2.4, 2.0), (35.0, -3.0, 3.2), (36.0, -3.5, 5.5),
    (38.0, -2.6, 3.0), (39.0, -3.4, 2.0), (41.0, -2.0, 2.6), (42.0, -3.0, 4.0), (44.0, -4.75, 1.75),
    (45.0, -2.2, 2.4), (47.0, -1.8, 1.8), (48.0, -2.0, 6.1), (50.0, -3.5, 2.0), (51.0, -1.6, 2.4),
    (53.0, -2.0, 1.2), (54.0, -3.9, 1.1), (56.0, -2.25, 6.5), (57.0, -2.0, 1.0), (59.0, -1.2, 1.6),
    (60.0, -2.0, 2.4), (62.0, -3.0, 1.1), (63.0, -1.0, 1.6), (65.0, -2.0, 0.5), (66.0, -2.6, 0.75),
    (68.0, -1.4, 1.75), (69.0, -1.8, 0.4), (71.0, -0.6, 1.2), (72.0, -1.4, 1.5), (74.0, -2.6, 0.25),
    (75.0, -0.5, 1.2), (77.0, -1.4, 0.3), (78.0, -2.0, 0.5), (80.0, -1.0, 1.1), (81.0, -1.2, 0.2),
    (83.0, -0.4, 0.9), (84.0, -0.75, 1.1), (86.0, -2.0, -0.1), (87.0, -0.6, 0.6),
]
p19_dots = [
    (37.9, -7.6), (50.0, 2.9), (49.4, 5.5), (72.8, -3.5), (74.6, 3.0), (82.5, -6.0), (81.0, -4.5),
    (85.5, -2.25), (85.5, 1.1), (83.7, 4.5),
]

p20_bars = [
    (0.3, -5.1, 5.5), (1.0, -4.0, 4.4), (2.0, -6.6, 8.4), (3.0, -4.0, 3.6), (4.0, -4.5, 4.9),
    (5.0, -3.6, 3.2), (6.0, -5.75, 6.1), (7.0, -3.0, 4.0), (8.0, -3.9, 4.25), (9.0, -4.6, 3.0),
    (10.0, -8.6, 3.0), (11.0, -3.4, 3.6), (12.0, -4.9, 3.6), (13.0, -2.8, 3.0), (14.0, -3.25, 4.9),
    (15.0, -4.0, 2.6), (17.0, -2.6, 3.2), (18.0, -3.9, 4.25), (20.0, -4.5, 2.4), (21.0, -2.4, 2.8),
    (23.0, -3.6, 2.0), (24.0, -7.6, 1.4), (26.0, -3.6, 3.0), (27.0, -2.8, 1.8), (29.0, -2.0, 2.6),
    (30.0, -2.6, 3.9), (32.0, -4.1, 2.1), (33.0, -1.8, 2.4), (35.0, -2.4, 1.4), (36.0, -4.9, 4.9),
    (38.0, -2.4, 3.0), (39.0, -3.0, 1.2), (41.0, -1.4, 2.4), (42.0, -2.6, 3.4), (44.0, -4.5, 1.4),
    (45.0, -1.6, 2.0), (47.0, -2.2, 0.8), (48.0, -2.0, 2.1), (50.0, -5.75, 0.5), (51.0, -1.8, 1.4),
    (53.0, -2.0, 0.6), (54.0, -1.6, 1.75), (56.0, -3.6, 0.9), (57.0, -1.4, 1.0), (59.0, -2.6, 0.5),
    (60.0, -4.1, -0.1), (62.0, -1.6, 1.4), (63.0, -2.2, 0.4), (65.0, -0.6, 1.6), (66.0, -1.1, 2.1),
    (68.0, -2.4, 0.5), (69.0, -0.8, 1.2), (71.0, -2.0, 0.2), (72.0, -2.9, -0.1), (74.0, -1.1, 1.4),
    (75.0, -1.4, 0.3), (77.0, -0.4, 1.0), (78.0, -0.75, 1.4), (80.0, -1.6, 0.1), (81.0, -0.4, 0.8),
    (83.0, -1.2, 0.2), (84.0, -1.6, -0.1), (86.0, -0.75, 0.9), (87.0, -1.0, 0.2),
]
p20_dots = [
    (12.9, 6.1), (26.8, -7.0), (31.9, -7.25), (40.3, -7.4), (40.3, 7.4), (57.5, -8.0), (56.6, 4.6),
    (57.5, 6.4), (66.5, -3.25), (68.0, -2.9), (65.6, 3.0), (69.5, 2.4), (75.6, -4.5), (74.0, 3.0),
    (77.1, 7.4), (78.6, -4.9), (83.1, -3.0), (83.1, 0.9), (83.1, 4.25), (78.6, 2.1), (86.7, -4.75),
    (86.7, -1.75),
]

strip_labels = [str(k) for k in range(1, 21)]
panels = [
    (p01_bars, p01_dots), (p02_bars, p02_dots), (p03_bars, p03_dots), (p04_bars, p04_dots),
    (p05_bars, p05_dots), (p06_bars, p06_dots), (p07_bars, p07_dots), (p08_bars, p08_dots),
    (p09_bars, p09_dots), (p10_bars, p10_dots), (p11_bars, p11_dots), (p12_bars, p12_dots),
    (p13_bars, p13_dots), (p14_bars, p14_dots), (p15_bars, p15_dots), (p16_bars, p16_dots),
    (p17_bars, p17_dots), (p18_bars, p18_dots), (p19_bars, p19_dots), (p20_bars, p20_dots),
]

W, H = 1394, 1388
fig = plt.figure(figsize=(W / 100, H / 100), dpi=100)
col_left = [19, 294, 569, 844, 1119]
row_top = [16, 359, 701, 1044]
pw, ph, sh = 264, 291, 40
ink = "#222222"

for i, ((bars, dots), lab) in enumerate(zip(panels, strip_labels)):
    r, c = divmod(i, 5)
    x0, y0 = col_left[c], row_top[r]

    sax = fig.add_axes([x0 / W, 1 - (y0 + sh) / H, pw / W, sh / H])
    sax.set_facecolor("#c3c3c3")
    sax.set_xticks([])
    sax.set_yticks([])
    for s in sax.spines.values():
        s.set_visible(False)
    sax.text(0.5, 0.45, lab, ha="center", va="center", fontsize=20,
             family="Liberation Sans", color="#1a1a1a", transform=sax.transAxes)

    ax = fig.add_axes([x0 / W, 1 - (y0 + sh + ph) / H, pw / W, ph / H])
    ax.set_facecolor("#dedede")
    for s in ax.spines.values():
        s.set_visible(False)
    for gx in [-15, -5, 5, 15]:
        ax.axvline(gx, color="white", lw=0.9, zorder=0)
    for gx in [-10, 0, 10]:
        ax.axvline(gx, color="white", lw=1.9, zorder=0)

    ys, lo, hi = zip(*bars)
    ax.hlines(ys, lo, hi, color=ink, lw=3.0, capstyle="butt", zorder=2)
    dy, dx = zip(*dots)
    ax.plot(dx, dy, "o", color=ink, ms=7.2, mew=0, zorder=3)

    ax.set_xlim(-16.5, 16.5)
    ax.set_ylim(87.6, 0)
    ax.set_xticks([])
    ax.set_yticks([])

fig.savefig("out.png", dpi=100)
